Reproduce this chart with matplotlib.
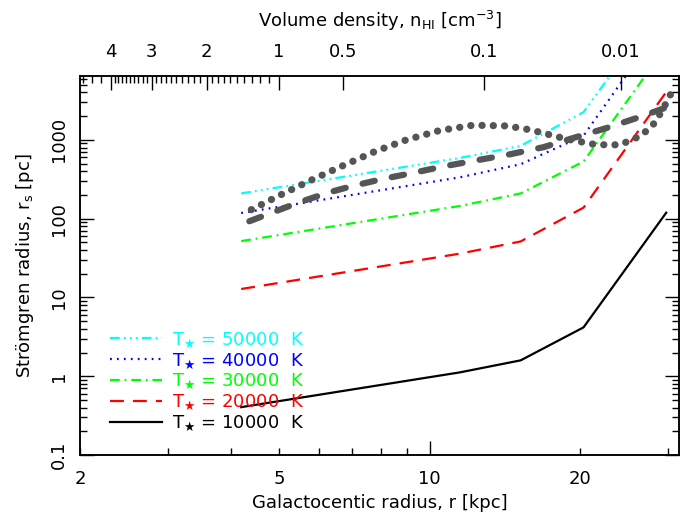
import numpy as np
import matplotlib
matplotlib.use('Agg')
import matplotlib.pyplot as plt
from matplotlib.ticker import FixedLocator, FixedFormatter, NullFormatter, FuncFormatter, LogLocator

plt.rcParams['font.family'] = ['DejaVu Sans']
plt.rcParams['font.size'] = 13
plt.rcParams['mathtext.fontset'] = 'dejavusans'
plt.rcParams['mathtext.default'] = 'regular'
plt.rcParams['lines.scale_dashes'] = False

# ---- data ----
temps = [50000, 40000, 30000, 20000, 10000]
r_grid = [4.2, 11.5, 15.2, 20.3, 29.7]
rs_50000 = [209, 590, 839, 2250, 62000]
rs_40000 = [118, 335, 491, 1130, 34500]
rs_30000 = [51.9, 145, 209, 531, 15200]
rs_20000 = [12.8, 36, 51.4, 138, 4050]
rs_10000 = [0.405, 1.12, 1.59, 4.17, 119]

gray_dash_r = [4.36, 5.45, 6.28, 6.95, 8.03, 9.28, 10.72, 12.4, 14.45, 16.9, 19.3, 22.5, 26.2, 31.5]
gray_dash_rs = [92.7, 159, 215, 256, 318, 382, 464, 550, 655, 809, 1050, 1406, 1937, 2950]

gray_dot_r = [4.4, 5.04, 5.82, 6.72, 7.77, 8.98, 10.45, 12.2, 14.27, 15.9, 18.75, 21.5, 24.0, 26.2, 27.4, 28.3, 29.8, 30.6]
gray_dot_rs = [130, 201, 312, 473, 711, 1000, 1312, 1535, 1504, 1340, 1026, 868, 865, 1101, 1366, 1706, 3054, 4295]

# top axis: volume density labels and the radius where each sits
n_labels = ['4', '3', '2', '1', '0.5', '0.1', '0.01']
n_values = [4, 3, 2, 1, 0.5, 0.1, 0.01]
r_at_n = [2.31, 2.78, 3.58, 5.0, 6.7, 12.85, 24.1]
n_minor = [1.1, 1.2, 1.3, 1.4, 1.5, 1.6, 1.7, 1.8, 1.9,
           2.1, 2.2, 2.3, 2.4, 2.5, 2.6, 2.7, 2.8, 2.9,
           3.1, 3.2, 3.3, 3.4, 3.5, 3.6, 3.7, 3.8, 3.9,
           4.3, 4.6, 4.9]


def n_to_r(n):
    ln = np.log10(np.asarray(n, float))
    xp = np.log10(n_values)[::-1]
    fp = np.log10(r_at_n)[::-1]
    out = np.interp(ln, xp, fp)
    slope = (fp[-1] - fp[-2]) / (xp[-1] - xp[-2])
    out = np.where(ln > xp[-1], fp[-1] + slope * (ln - xp[-1]), out)
    return 10 ** out


fig = plt.figure(figsize=(6.86, 5.12), dpi=100)
ax = fig.add_axes([80 / 686, 57 / 512, 599 / 686, 379 / 512])

styles = {
    50000: dict(color='#00FFFF', ls=(0, (7, 3, 1.3, 3, 1.3, 3, 1.3, 3))),
    40000: dict(color='#0000FF', ls=(0, (1.3, 3.7))),
    30000: dict(color='#00FF00', ls=(0, (7, 3.5, 1.3, 3.5))),
    20000: dict(color='#FF0000', ls=(0, (10, 6.5))),
    10000: dict(color='#000000', ls='-'),
}
series = {50000: rs_50000, 40000: rs_40000, 30000: rs_30000,
          20000: rs_20000, 10000: rs_10000}

for T in temps:
    st = styles[T]
    ax.plot(r_grid, series[T], color=st['color'], linestyle=st['ls'], lw=1.6,
            label=r'T$_{\bigstar}$ = %d  K' % T)

ax.plot(gray_dash_r, gray_dash_rs, color='#555555', lw=4.5,
        linestyle=(0, (9, 12.5)), dash_capstyle='round', zorder=5)
ax.plot(gray_dot_r, gray_dot_rs, color='#555555', lw=5.2,
        linestyle=(0, (0.1, 8)), dash_capstyle='round', zorder=5)

ax.set_xscale('log')
ax.set_yscale('log')
ax.set_xlim(2, 31.5)
ax.set_ylim(0.1, 6470)

ax.xaxis.set_major_locator(FixedLocator([10]))
ax.xaxis.set_major_formatter(FixedFormatter(['10']))
ax.xaxis.set_minor_locator(FixedLocator([2, 3, 4, 5, 6, 7, 8, 9, 20, 30]))
ax.xaxis.set_minor_formatter(FuncFormatter(lambda v, p: '%g' % v if round(v) in (2, 5, 20) else ''))

ax.yaxis.set_major_locator(LogLocator(base=10, numticks=10))
ax.yaxis.set_major_formatter(FuncFormatter(lambda v, p: '%g' % v))
ax.yaxis.set_minor_locator(LogLocator(base=10, subs=np.arange(2, 10), numticks=20))
ax.yaxis.set_minor_formatter(NullFormatter())

ax.tick_params(which='both', direction='in', top=False, right=True, left=True, bottom=True,
               width=1.0, colors='black')
ax.tick_params(which='major', length=10)
ax.tick_params(which='minor', length=5)
ax.tick_params(axis='x', which='both', pad=11)
ax.tick_params(axis='y', which='both', pad=9)
for lab in ax.get_yticklabels():
    lab.set_rotation(90)
    lab.set_va('center')

ax.set_xlabel('Galactocentic radius, r [kpc]', labelpad=4)
ax.set_ylabel('Strömgren radius, r$_s$ [pc]', labelpad=10)

ax2 = ax.twiny()
ax2.set_xscale('log')
ax2.set_xlim(ax.get_xlim())
ax2.xaxis.set_major_locator(FixedLocator(r_at_n))
ax2.xaxis.set_major_formatter(FixedFormatter(n_labels))
ax2.xaxis.set_minor_locator(FixedLocator(list(n_to_r(n_minor))))
ax2.xaxis.set_minor_formatter(NullFormatter())
ax2.tick_params(which='both', direction='in', top=True, bottom=False, width=1.0, pad=11)
ax2.tick_params(which='major', length=10)
ax2.tick_params(which='minor', length=5)
ax2.set_xlabel('Volume density, n$_{HI}$ [cm$^{-3}$]', labelpad=11)

for a in (ax, ax2):
    for s in a.spines.values():
        s.set_linewidth(1.1)

leg = ax.legend(loc='upper left', bbox_to_anchor=(0.05, 0.329), frameon=False,
                handlelength=2.9, handletextpad=0.55, labelspacing=0.08,
                borderpad=0, borderaxespad=0, labelcolor='linecolor', fontsize=13)

fig.savefig('out.png', dpi=100)
